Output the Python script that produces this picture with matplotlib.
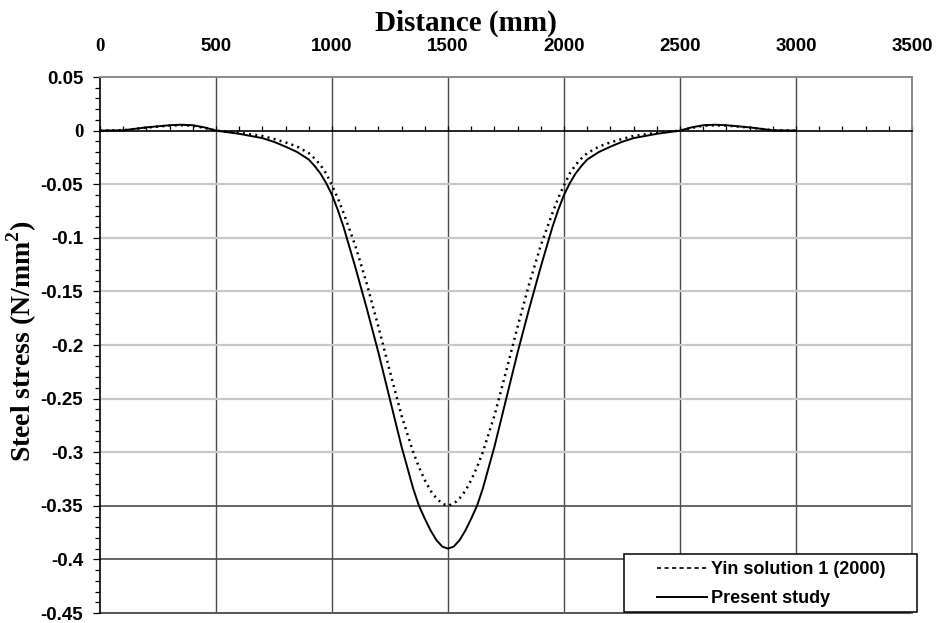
import numpy as np
import matplotlib
matplotlib.use('Agg')
import matplotlib.pyplot as plt
from matplotlib.lines import Line2D
from matplotlib.patches import Rectangle
from matplotlib.ticker import MultipleLocator

# distance along the bar (mm)
distance = [0, 100, 200, 300, 350, 400, 450, 500, 600, 700, 750, 800, 850, 900, 925, 950,
            975, 1000, 1025, 1050, 1100, 1150, 1200, 1250, 1300, 1350, 1375, 1400, 1425,
            1450, 1475, 1500,
            1525, 1550, 1575, 1600, 1625, 1650, 1700, 1750, 1800, 1850, 1900, 1950, 1975,
            2000, 2025, 2050, 2075, 2100, 2150, 2200, 2250, 2300, 2400, 2500, 2550, 2600,
            2650, 2700, 2800, 2900, 3000]

# steel stress (N/mm2)
present_study = [0.0, 0.0003, 0.003, 0.005, 0.0055, 0.005, 0.003, 0.0, -0.003, -0.007,
                 -0.0105, -0.015, -0.020, -0.027, -0.033, -0.040, -0.049, -0.060, -0.074,
                 -0.090, -0.127, -0.166, -0.207, -0.251, -0.295, -0.334, -0.350, -0.362,
                 -0.373, -0.382, -0.388, -0.390,
                 -0.388, -0.382, -0.373, -0.362, -0.350, -0.334, -0.295, -0.251, -0.207,
                 -0.166, -0.127, -0.090, -0.074, -0.060, -0.049, -0.040, -0.033, -0.027,
                 -0.020, -0.015, -0.0105, -0.007, -0.003, 0.0, 0.003, 0.005, 0.0055, 0.005,
                 0.003, 0.0003, 0.0]

yin_solution = [0.0, 0.0003, 0.0028, 0.0047, 0.005, 0.0045, 0.0025, 0.0, -0.002, -0.005,
                -0.0078, -0.011, -0.015, -0.021, -0.026, -0.032, -0.040, -0.051, -0.063,
                -0.077, -0.107, -0.143, -0.183, -0.225, -0.266, -0.300, -0.314, -0.326,
                -0.336, -0.343, -0.348, -0.350,
                -0.348, -0.343, -0.336, -0.326, -0.314, -0.300, -0.266, -0.225, -0.183,
                -0.143, -0.107, -0.077, -0.063, -0.051, -0.040, -0.032, -0.026, -0.021,
                -0.015, -0.011, -0.0078, -0.005, -0.002, 0.0, 0.0025, 0.0045, 0.005, 0.0047,
                0.0028, 0.0003, 0.0]

xticks = [0, 500, 1000, 1500, 2000, 2500, 3000, 3500]
yticks = [0.05, 0.0, -0.05, -0.1, -0.15, -0.2, -0.25, -0.3, -0.35, -0.4, -0.45]
dark_hlines = [-0.35, -0.4]
labels = ['Yin solution 1 (2000)', 'Present study']


def main():
    plt.rcParams['mathtext.fontset'] = 'custom'
    plt.rcParams['mathtext.bf'] = 'Liberation Serif:bold'
    plt.rcParams['mathtext.rm'] = 'Liberation Serif:bold'
    W, H = 938, 623
    fig = plt.figure(figsize=(W/100, H/100), dpi=100)
    ax = fig.add_axes([100/W, 1-613/H, 812/W, 536/H])
    ax.set_xlim(0, 3500)
    ax.set_ylim(-0.45, 0.05)

    # grid -------------------------------------------------------------
    for x in xticks[1:-1]:
        ax.axvline(x, color='#4a4a4a', lw=1.0, zorder=1)
    for y in yticks[2:]:
        if y in dark_hlines:
            ax.axhline(y, color='#4a4a4a', lw=1.2, zorder=1)
        else:
            ax.axhline(y, color='#c8c8c8', lw=1.6, zorder=1)
    ax.axhline(-0.45, color='#555555', lw=1.4, zorder=1, clip_on=False)

    # curves
    ax.plot(distance, yin_solution, color='black', lw=1.8, ls=(0, (0.8, 1.7)), zorder=3)
    ax.plot(distance, present_study, color='black', lw=1.4, zorder=4)

    # spines / ticks
    for s in ['top', 'right']:
        ax.spines[s].set_color('#8a8a8a')
        ax.spines[s].set_linewidth(1.4)
    ax.spines['left'].set_linewidth(1.2)
    ax.spines['bottom'].set_position(('data', 0))
    ax.spines['bottom'].set_linewidth(1.2)
    ax.xaxis.set_ticks(xticks)
    ax.xaxis.set_minor_locator(MultipleLocator(100))
    ax.tick_params(axis='x', which='both', direction='in', length=3.6, width=0.9, labelbottom=False)
    ax.set_yticks(yticks, labels=[f'{round(v, 2):g}' for v in yticks])
    ax.yaxis.set_minor_locator(MultipleLocator(0.01))
    ax.tick_params(axis='y', which='major', length=5, width=0.9, pad=7)
    ax.tick_params(axis='y', which='minor', length=3.5, width=0.9)
    for lbl in ax.get_yticklabels():
        lbl.set_fontfamily('Liberation Serif' if lbl.get_text() == '0' else 'Liberation Sans')
        lbl.set_fontweight('bold')
        lbl.set_fontsize(13.5)

    sec = ax.secondary_xaxis('top')
    sec.set_xticks(xticks, labels=[str(t) for t in xticks])
    sec.tick_params(length=0, pad=16)
    for s in sec.spines.values():
        s.set_visible(False)
    for lbl in sec.get_xticklabels():
        lbl.set_fontfamily('Liberation Serif' if lbl.get_text() == '0' else 'Liberation Sans')
        lbl.set_fontweight('bold')
        lbl.set_fontsize(13.5)

    fig.text(466/W, 1-23/H, 'Distance (mm)', family='Liberation Serif', weight='bold',
             fontsize=21, ha='center', va='center')
    fig.text(22/W, 1-341/H, r'Steel stress (N/mm$^\mathbf{2}$)', family='Liberation Serif',
             weight='bold', fontsize=20, rotation=90, ha='center', va='center')

    # legend box
    fig.patches.append(Rectangle((624/W, 1-612/H), 293/W, 58/H, transform=fig.transFigure,
                                 facecolor='white', edgecolor='black', lw=1.1, zorder=5))
    handles = [Line2D([], [], color='black', lw=1.2, ls=(0, (2.5, 2))),
               Line2D([], [], color='black', lw=1.4)]
    leg = fig.legend(handles, labels, loc='center', bbox_to_anchor=(771/W, 1-584/H),
                     frameon=False, handlelength=2.8, handletextpad=0.2, labelspacing=0.65,
                     prop={'family': 'Liberation Sans', 'weight': 'bold', 'size': 13})
    leg.set_zorder(6)

    plt.savefig('out.png', dpi=100)


if __name__ == '__main__':
    main()
